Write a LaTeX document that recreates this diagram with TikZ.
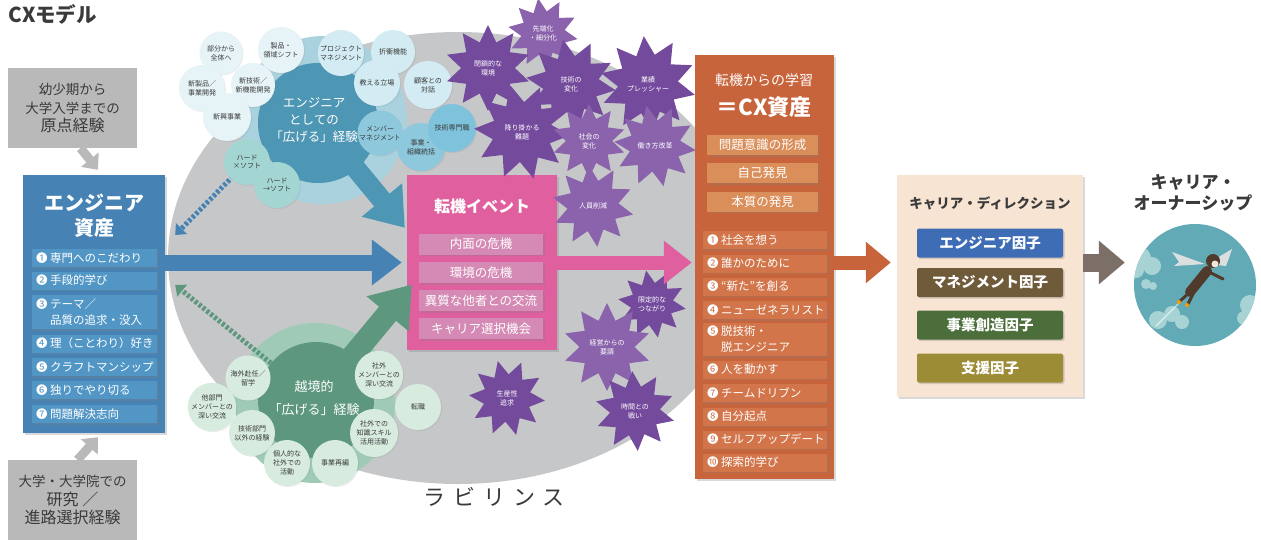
\documentclass[tikz,border=0pt]{standalone}
\usepackage{fontspec}
\setmainfont{Noto Sans CJK JP}
\usepackage{xcolor}
\usepackage{tikz}
\usetikzlibrary{positioning, shapes.geometric, arrows.meta, shadows}

\definecolor{inkgray}{HTML}{3A3A3A}
\definecolor{boxgray}{HTML}{B9B9B9}
\definecolor{mazegray}{HTML}{C6C7C9}
\definecolor{assetblue}{HTML}{4683B4}
\definecolor{assetitem}{HTML}{5296C6}
\definecolor{uphalo}{HTML}{A9D1DE}
\definecolor{upcore}{HTML}{4D96B4}
\definecolor{upsmall}{HTML}{E6F3F7}
\definecolor{uplight}{HTML}{D3ECF3}
\definecolor{upmid}{HTML}{8DC8DD}
\definecolor{upbright}{HTML}{7EC3DB}
\definecolor{upteal}{HTML}{A3D5D3}
\definecolor{lowhalo}{HTML}{9FCBB6}
\definecolor{lowcore}{HTML}{5C977E}
\definecolor{lowsmall}{HTML}{D7EBDF}
\definecolor{eventpink}{HTML}{E0609F}
\definecolor{eventitem}{HTML}{D48AB4}
\definecolor{burstdark}{HTML}{744A9C}
\definecolor{burstlight}{HTML}{8A63AC}
\definecolor{cxorange}{HTML}{C8643B}
\definecolor{cxsub}{HTML}{DA8E5A}
\definecolor{cxitem}{HTML}{D3754A}
\definecolor{dirbeige}{HTML}{F8E4D2}
\definecolor{fengineer}{HTML}{3E6DB5}
\definecolor{fmanage}{HTML}{6F5A3A}
\definecolor{fcreate}{HTML}{4B6E3A}
\definecolor{fsupport}{HTML}{9C8C36}
\definecolor{ownerarrow}{HTML}{7B6F67}
\definecolor{sky}{HTML}{62AAB6}
\definecolor{cloud}{HTML}{A8D3D5}
\definecolor{suit}{HTML}{4F3A2C}
\definecolor{wing}{HTML}{DADFDF}

\newcommand{\fsz}[2]{\fontsize{#1}{#2}\selectfont}
\newcommand{\numtag}[1]{\makebox[14pt][l]{#1}}

\begin{document}
\begin{tikzpicture}[x=1pt, y=-1pt,
every node/.style={text=inkgray},
shade/.style={drop shadow={shadow xshift=1.5pt, shadow yshift=-1.5pt, opacity=0.3}},
graybox/.style={rectangle, fill=boxgray, minimum width=129pt, minimum height=80pt, align=center, inner sep=0pt},
panel/.style={rectangle, shade, inner sep=0pt},
chip/.style={rectangle, shade, text=white, inner sep=0pt},
listitem/.style={rectangle, shade, text=white, anchor=west, align=left, text width=#1, inner xsep=4pt, inner ysep=0pt, minimum height=18pt, font=\fsz{11.5}{14}},
bubble/.style={circle, inner sep=0pt, minimum size=#1, align=center, font=\fsz{7}{8.8}, drop shadow={shadow xshift=1pt, shadow yshift=-1pt, opacity=0.15}},
bubble/.default=46pt,
burst/.style={star, star points=10, star point ratio=1.6, inner sep=0pt, minimum size=#1, fill=burstdark},
burstlabel/.style={text=white, align=center, font=\fsz{7}{9}},
factor/.style={chip, minimum width=146pt, minimum height=29pt, rounded corners=2pt, font=\bfseries\fsz{14.5}{14.5}},
]
\useasboundingbox (0,0) rectangle (1261,539);

% Labyrinth
\node[ellipse, fill=mazegray, minimum width=580pt, minimum height=452pt, inner sep=0pt] (maze) at (458,258) {};
\node[font=\fsz{22}{22}\addfontfeature{LetterSpace=36}] (mazelabel) at (494,497) {ラビリンス};

% Title
\node[anchor=west, font=\bfseries\fsz{20.5}{20.5}] (title) at (5,14) {CXモデル};

% Engineer assets
\node[panel, fill=assetblue, minimum width=142pt, minimum height=258pt] (asset) at (94,304) {};
\node[font=\bfseries\fsz{20}{25}, text=white, align=center] (assettitle) at (94,215.5) {エンジニア\\資産};
\node[listitem=117pt, fill=assetitem] (a1) at (32,258) {\numtag{❶}専門へのこだわり};
\node[listitem=117pt, fill=assetitem] (a2) at (32,280.5) {\numtag{❷}手段的学び};
\node[listitem=117pt, fill=assetitem, minimum height=34pt, font=\fsz{11.5}{16}] (a3) at (32,312) {\numtag{❸}テーマ／\\\hspace*{14pt}品質の追求・没入};
\node[listitem=117pt, fill=assetitem] (a4) at (32,343.5) {\numtag{❹}理（ことわり）好き};
\node[listitem=117pt, fill=assetitem] (a5) at (32,367) {\numtag{❺}クラフトマンシップ};
\node[listitem=117pt, fill=assetitem] (a6) at (32,390) {\numtag{❻}独りでやり切る};
\node[listitem=117pt, fill=assetitem] (a7) at (32,414) {\numtag{❼}問題解決志向};

% Origin experiences
\node[graybox, font=\fsz{13.5}{18.5}] (origin) at (72.5,108) {幼少期から\\大学入学までの\\\fsz{16}{19}原点経験};
\node[graybox, font=\fsz{13.5}{18.5}] (study) at (72.5,500) {大学・大学院での\\\fsz{16}{18.5}研究 ／\\\fsz{16}{18.5}進路選択経験};
\draw[boxgray, line width=9pt, -{Triangle[length=13pt, width=22pt]}] ([xshift=8pt]origin.south) -- ([xshift=4pt,yshift=5pt]asset.north);
\draw[boxgray, line width=9pt, -{Triangle[length=13pt, width=22pt]}] ([xshift=5pt]study.north) -- ([xshift=4pt,yshift=-4pt]asset.south);

% Turning-point events
\node[panel, fill=eventpink, minimum width=150pt, minimum height=175pt] (event) at (482,262.5) {};
\node[font=\bfseries\fsz{16}{16}, text=white] (eventtitle) at (482,206) {転機イベント};
\node[chip, fill=eventitem, minimum width=124pt, minimum height=21pt, font=\fsz{12.5}{12.5}] (e1) at (481,244) {内面の危機};
\node[chip, fill=eventitem, minimum width=124pt, minimum height=21pt, font=\fsz{12.5}{12.5}] (e2) at (481,272.5) {環境の危機};
\node[chip, fill=eventitem, minimum width=124pt, minimum height=21pt, font=\fsz{12.5}{12.5}] (e3) at (481,300.5) {異質な他者との交流};
\node[chip, fill=eventitem, minimum width=124pt, minimum height=21pt, font=\fsz{12.5}{12.5}] (e4) at (481,328.5) {キャリア選択機会};

% Upper cluster
\node[circle, fill=uphalo, minimum size=168pt] (uphalo) at (323,120) {};
\draw[upcore, line width=20pt, -{Triangle[length=36pt, width=50pt]}] (320,125) -- ([xshift=-2pt,yshift=-53pt]event.north west);
\node[circle, fill=upcore, minimum size=120pt, inner sep=0pt] (upcore) at (318,123) {};
\node[align=center, text=white, font=\fsz{12.5}{17}] (uptext) at (314,120) {エンジニア\\としての\\「広げる」経験};

% Lower cluster
\node[circle, fill=lowhalo, minimum size=160pt] (lowhalo) at (315,403) {};
\draw[lowcore, line width=22pt, -{Triangle[length=38pt, width=52pt]}] (316,400) -- ([xshift=5pt,yshift=-22pt]event.west);
\node[circle, fill=lowcore, minimum size=116pt, inner sep=0pt] (lowcore) at (316,400) {};
\node[align=center, text=white, font=\fsz{13}{23}] (lowtext) at (314,398) {越境的\\「広げる」経験};

% Dotted links back to the asset box
\draw[assetblue, line width=5pt, dash pattern=on 3pt off 2pt, -{Triangle[length=9pt, width=15pt]}] (247,162) -- ([xshift=10pt,yshift=69pt]asset.east);
\draw[lowcore, line width=5pt, dash pattern=on 3pt off 2pt, -{Triangle[length=9pt, width=15pt]}] (lowcore) -- ([xshift=10pt,yshift=19pt]asset.east);

% Upper bubbles
\node[bubble=43pt, fill=upsmall] (u1) at (221,53) {部分から\\全体へ};
\node[bubble, fill=upsmall] (u2) at (281,50) {製品・\\領域シフト};
\node[bubble, fill=uplight] (u3) at (341,53) {プロジェクト\\マネジメント};
\node[bubble=44pt, fill=uplight] (u4) at (393,52) {折衝機能};
\node[bubble, fill=upsmall] (u5) at (202,88) {新製品／\\事業開発};
\node[bubble=44pt, fill=upsmall] (u6) at (253,85) {新技術／\\新機能開発};
\node[bubble, fill=uplight] (u7) at (377,83) {教える立場};
\node[bubble=48pt, fill=uplight] (u8) at (428,85) {顧客との\\対話};
\node[bubble=48pt, fill=upsmall] (u9) at (227,117) {新興事業};
\node[bubble=45pt, fill=upmid] (u10) at (380,133) {メンバー\\マネジメント};
\node[bubble=48pt, fill=upmid] (u12) at (421,147) {事業・\\組織統括};
\node[bubble=48pt, fill=upbright] (u11) at (452,128) {技術専門職};
\node[bubble, fill=upteal] (hs1) at (247,162) {ハード\\×ソフト};
\node[bubble, fill=upteal] (hs2) at (277,185) {ハード\\→ソフト};

% Lower bubbles
\node[bubble=45pt, fill=lowsmall] (l1) at (248,378) {海外赴任／\\留学};
\node[bubble=48pt, fill=lowsmall] (l2) at (212,407) {他部門\\メンバーとの\\深い交流};
\node[bubble, fill=lowsmall] (l3) at (252,433) {技術部門\\以外の経験};
\node[bubble, fill=lowsmall] (l4) at (287,463) {個人的な\\社外での\\活動};
\node[bubble, fill=lowsmall] (l5) at (335,463) {事業再編};
\node[bubble, fill=lowsmall] (l6) at (379,375) {社外\\メンバーとの\\深い交流};
\node[bubble, fill=lowsmall] (l7) at (418,407) {転職};
\node[bubble=48pt, fill=lowsmall] (l8) at (374,433) {社外での\\知識スキル\\活用活動};

% Turning-point pressures
\node[burst=70pt, fill=burstlight, shape border rotate=8] (s1) at (543,33) {};
\node[burst=86pt] (s2) at (488,68) {};
\node[burst=90pt, shape border rotate=10] (s3) at (571,84) {};
\node[burst=96pt, shape border rotate=5] (s4) at (648,84) {};
\node[burst=96pt, shape border rotate=14] (s5) at (522,132) {};
\node[burst=74pt, fill=burstlight] (s6) at (589,141) {};
\node[burst=82pt, fill=burstlight, shape border rotate=12] (s7) at (655,146) {};
\node[burst=82pt, fill=burstlight, shape border rotate=6] (s8) at (593,206) {};
\node[burst=68pt, shape border rotate=10] (s9) at (652,304) {};
\node[burst=88pt, fill=burstlight] (s10) at (607,347) {};
\node[burst=76pt, shape border rotate=14] (s11) at (507,398) {};
\node[burst=80pt, shape border rotate=4] (s12) at (635,411) {};
\node[burstlabel] at (s1) {先端化\\・細分化};
\node[burstlabel] at (s2) {閉鎖的な\\環境};
\node[burstlabel] at (s3) {技術の\\変化};
\node[burstlabel] at (s4) {業績\\プレッシャー};
\node[burstlabel] at (s5) {降り掛かる\\難題};
\node[burstlabel] at (s6) {社会の\\変化};
\node[burstlabel] at (s7) {働き方改革};
\node[burstlabel] at (s8) {人員削減};
\node[burstlabel] at (s9) {限定的な\\つながり};
\node[burstlabel] at (s10) {経営からの\\要請};
\node[burstlabel] at (s11) {生産性\\追求};
\node[burstlabel] at (s12) {時間との\\戦い};

% CX assets
\node[panel, fill=cxorange, minimum width=139pt, minimum height=424pt] (cx) at (764.5,267) {};
\node[font=\fsz{14}{14}, text=white] (cxtitle) at (764,80) {転機からの学習};
\node[font=\bfseries\fsz{22}{22}, text=white] (cxname) at (764,107) {＝CX資産};
\node[chip, fill=cxsub, minimum width=111pt, minimum height=20pt, font=\fsz{12.5}{12.5}] (c1) at (762.5,145) {問題意識の形成};
\node[chip, fill=cxsub, minimum width=111pt, minimum height=20pt, font=\fsz{12.5}{12.5}] (c2) at (762.5,173) {自己発見};
\node[chip, fill=cxsub, minimum width=111pt, minimum height=20pt, font=\fsz{12.5}{12.5}] (c3) at (762.5,201.5) {本質の発見};
\node[listitem=116pt, fill=cxitem] (x1) at (703,240) {\numtag{❶}社会を想う};
\node[listitem=116pt, fill=cxitem] (x2) at (703,263.5) {\numtag{❷}誰かのために};
\node[listitem=116pt, fill=cxitem] (x3) at (703,286.5) {\numtag{❸}“新た”を創る};
\node[listitem=116pt, fill=cxitem] (x4) at (703,310) {\numtag{❹}ニューゼネラリスト};
\node[listitem=116pt, fill=cxitem, minimum height=33pt, font=\fsz{11.5}{16}] (x5) at (703,339.5) {\numtag{❺}脱技術・\\\hspace*{14pt}脱エンジニア};
\node[listitem=116pt, fill=cxitem] (x6) at (703,369.5) {\numtag{❻}人を動かす};
\node[listitem=116pt, fill=cxitem] (x7) at (703,393) {\numtag{❼}チームドリブン};
\node[listitem=116pt, fill=cxitem] (x8) at (703,416.5) {\numtag{❽}自分起点};
\node[listitem=116pt, fill=cxitem] (x9) at (703,439.5) {\numtag{❾}セルフアップデート};
\node[listitem=116pt, fill=cxitem] (x10) at (703,462.5) {\numtag{❿}探索的学び};

% Career direction
\node[panel, fill=dirbeige, minimum width=186pt, minimum height=222pt] (direction) at (990,286) {};
\node[font=\bfseries\fsz{13.5}{13.5}] (dirtitle) at (990,203) {キャリア・ディレクション};
\node[factor, fill=fengineer] (f1) at (990,243) {エンジニア因子};
\node[factor, fill=fmanage] (f2) at (990,282.5) {マネジメント因子};
\node[factor, fill=fcreate] (f3) at (990,325) {事業創造因子};
\node[factor, fill=fsupport] (f4) at (990,368) {支援因子};

% Career ownership
\node[font=\bfseries\fsz{17}{21}, align=center] (ownertitle) at (1193,193) {キャリア・\\オーナーシップ};
\node[circle, fill=sky, minimum size=122pt, inner sep=0pt] (owner) at (1195,285) {};
\begin{scope}
\clip (owner.center) circle (61pt);
\fill[cloud] (1140,258) circle (11pt) (1152,266) circle (9pt) (1136,270) circle (8pt);
\fill[cloud] (1146,284) circle (5pt) (1153,286) circle (4pt);
\fill[cloud] (1158,320) circle (9pt) (1172,314) circle (8pt) (1182,322) circle (7pt);
\fill[cloud] (1250,305) circle (10pt) (1258,314) circle (10pt) (1244,318) circle (7pt);
\draw[white, opacity=0.6, line width=1.2pt] (1183,299) -- (1156,326);
\fill[wing] (1205,264) -- (1172,252) -- (1179,262) -- (1174,266) -- cycle;
\fill[wing] (1207,264) -- (1232,249) -- (1229,258) -- (1226,266) -- cycle;
\draw[suit, line width=10pt, line cap=round] (1190,292) -- (1207,271);
\draw[suit, line width=3pt, line cap=round] (1190,292) -- (1180,301) (1193,294) -- (1188,304);
\draw[suit, line width=3pt, line cap=round] (1203,272) -- (1195,284) (1209,272) -- (1223,279);
\fill[suit] (1213,261) circle (7pt);
\fill[white!80!brown] (1215,264) circle (3.5pt);
\fill[orange!80!yellow] (1179,302) circle (2pt) (1187,305) circle (2pt);
\end{scope}

% Arrows
\draw[assetblue, line width=16pt, -{Triangle[length=30pt, width=44pt]}] (asset.east |- event.west) -- ([xshift=-5pt]event.west);
\draw[eventpink, line width=14pt, -{Triangle[length=28pt, width=42pt]}] (event.east) -- ([xshift=-3pt]cx.west |- event.east);
\draw[cxorange, line width=14pt, -{Triangle[length=25pt, width=40pt]}] (cx.east |- event.east) -- ([xshift=-6pt]direction.west |- event.east);
\draw[ownerarrow, line width=18pt, -{Triangle[length=26pt, width=42pt]}] (direction.east |- event.east) -- ([xshift=-9pt]owner.west |- event.east);

\end{tikzpicture}
\end{document}
